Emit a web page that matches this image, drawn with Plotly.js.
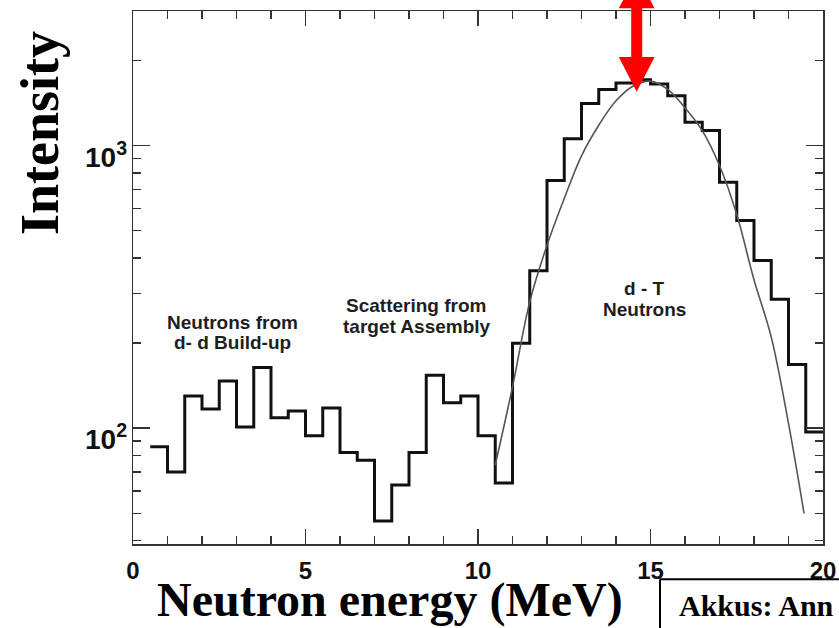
<!DOCTYPE html>
<html>
<head>
<meta charset="utf-8">
<script src="https://cdn.plot.ly/plotly-3.0.1.min.js"></script>
<style>
  html, body { margin: 0; padding: 0; background: #fff; }
  #chart { width: 839px; height: 628px; }
</style>
</head>
<body>
<div id="chart"></div>
<script>
// Neutron energy spectrum: measured histogram (0.5 MeV bins) and fitted d-T peak
const binEdges = [0.5, 1.0, 1.5, 2.0, 2.5, 3.0, 3.5, 4.0, 4.5, 5.0,
                  5.5, 6.0, 6.5, 7.0, 7.5, 8.0, 8.5, 9.0, 9.5, 10.0,
                  10.5, 11.0, 11.5, 12.0, 12.5, 13.0, 13.5, 14.0, 14.5, 15.0,
                  15.5, 16.0, 16.5, 17.0, 17.5, 18.0, 18.5, 19.0, 19.5, 20.0];
const binCounts = [86, 70, 130, 117, 147, 101, 164, 109, 115, 94,
                   118, 82, 77, 47, 63, 82, 154, 123, 130, 94,
                   64, 200, 361, 752, 1056, 1408, 1580, 1665, 1710, 1650,
                   1500, 1210, 1130, 742, 543, 392, 286, 168, 97];

const fitEnergy = [10.5, 11.0, 11.5, 12.0, 12.5, 13.0, 13.5, 14.0, 14.5, 15.0,
                   15.5, 16.0, 16.5, 17.0, 17.5, 18.0, 18.5, 19.0, 19.45];
const fitIntensity = [74, 140, 280, 444, 650, 920, 1180, 1440, 1625, 1690,
                      1580, 1360, 1130, 850, 570, 335, 210, 104, 50];

const yTickVals = [100, 1000];
const yTickText = ['10<sup>2</sup>', '10<sup>3</sup>'];

// energy of the d-T peak marker
const peakEnergy = 14.6;

// step outline: repeat last count so the final bin closes at its upper edge
const stepY = binCounts.concat([binCounts[binCounts.length - 1]]);

const axisColor = '#333';
const sansBold = { family: 'Liberation Sans, Arial, sans-serif', weight: 'bold' };
const serifBold = { family: 'Liberation Serif, Times New Roman, serif', weight: 'bold', color: '#000' };

const traces = [
  {
    type: 'scatter', mode: 'lines',
    x: binEdges, y: stepY,
    line: { shape: 'hv', color: '#111', width: 3 },
    hoverinfo: 'skip', showlegend: false
  },
  {
    type: 'scatter', mode: 'lines',
    x: fitEnergy, y: fitIntensity,
    line: { shape: 'spline', smoothing: 1, color: '#555', width: 1.6 },
    hoverinfo: 'skip', showlegend: false
  }
];

function label(text, x, y, size) {
  return {
    text: text, x: x, y: y, xref: 'x', yref: 'y',
    showarrow: false, xanchor: 'center', yanchor: 'middle',
    font: Object.assign({ size: size, color: '#1e1e1e' }, sansBold)
  };
}

const annotations = [
  label('Neutrons from', 2.886, 2.3746, 19),
  label('d- d Build-up', 2.886, 2.3018, 19),
  label('Scattering from', 8.21, 2.4336, 19),
  label('target Assembly', 8.24, 2.3604, 19),
  label('d - T', 14.82, 2.4961, 19),
  label('Neutrons', 14.82, 2.4184, 19),
  {
    text: 'Neutron energy (MeV)', xref: 'paper', yref: 'paper',
    x: 0.3725, y: -0.106, xanchor: 'center', yanchor: 'middle', showarrow: false,
    font: Object.assign({ size: 48 }, serifBold)
  },
  {
    text: 'Intensity', xref: 'paper', yref: 'paper', textangle: -90,
    x: -0.1348, y: 0.771, xanchor: 'center', yanchor: 'middle', showarrow: false,
    font: Object.assign({ size: 54 }, serifBold)
  },
  {
    text: 'Akkus: Ann', xref: 'paper', yref: 'paper',
    x: 0.7885, y: -0.1148, xanchor: 'left', yanchor: 'middle', showarrow: false,
    font: Object.assign({ size: 30 }, serifBold)
  }
];

// decade labels on the log axis
yTickVals.forEach(function (v, i) {
  annotations.push({
    text: yTickText[i], xref: 'paper', yref: 'y',
    x: -0.006, y: Math.log10(v), xanchor: 'right', yanchor: 'middle',
    yshift: -9, showarrow: false,
    font: Object.assign({ size: 28, color: '#111' }, sansBold)
  });
});

// red double-headed arrow over the peak, sized in pixels
const arrowPath = 'M -5.5,-46 L -17.9,-46 L 0,-80.7 L 17.9,-46 L 5.5,-46 ' +
                  'L 5.5,2.7 L 17.9,2.7 L 0,37 L -17.9,2.7 L -5.5,2.7 Z';

const shapes = [
  {
    type: 'path', path: arrowPath,
    xref: 'x', xsizemode: 'pixel', xanchor: peakEnergy,
    yref: 'paper', ysizemode: 'pixel', yanchor: 1,
    fillcolor: '#ff0000', line: { width: 0 }, layer: 'above'
  },
  // short marker line on the left axis
  {
    type: 'line', xref: 'paper', yref: 'y',
    x0: -0.005, x1: 0.028, y0: 3.094, y1: 3.094,
    line: { color: '#111', width: 2.5 }
  },
  // citation box outline
  {
    type: 'line', xref: 'paper', yref: 'paper',
    x0: 0.7638, x1: 1.04, y0: -0.0662, y1: -0.0662,
    line: { color: '#000', width: 2 }
  },
  {
    type: 'line', xref: 'paper', yref: 'paper',
    x0: 0.7638, x1: 0.7638, y0: -0.0662, y1: -0.18,
    line: { color: '#000', width: 2 }
  }
];

const layout = {
  width: 839, height: 628,
  margin: { l: 133, r: 16, t: 11, b: 84 },
  paper_bgcolor: '#fff', plot_bgcolor: '#fff',
  showlegend: false,
  xaxis: {
    range: [0, 20], showgrid: false, zeroline: false,
    showline: true, linecolor: axisColor, linewidth: 1.5, mirror: 'allticks',
    tickmode: 'linear', tick0: 0, dtick: 5,
    ticks: 'inside', ticklen: 15, tickwidth: 1.5, tickcolor: axisColor,
    ticklabelstandoff: 5,
    tickfont: Object.assign({ size: 24, color: '#111' }, sansBold),
    minor: { dtick: 1, ticks: 'inside', ticklen: 8, tickwidth: 1.5, tickcolor: axisColor, showgrid: false }
  },
  yaxis: {
    type: 'log', range: [1.5905, 3.476], showgrid: false, zeroline: false,
    showline: true, linecolor: axisColor, linewidth: 1.5, mirror: 'allticks',
    dtick: 1, showticklabels: false,
    ticks: 'inside', ticklen: 17, tickwidth: 1.5, tickcolor: axisColor,
    minor: { dtick: 'D1', ticks: 'inside', ticklen: 8, tickwidth: 1.5, tickcolor: axisColor, showgrid: false }
  },
  annotations: annotations,
  shapes: shapes
};

Plotly.newPlot('chart', traces, layout, { displayModeBar: false, staticPlot: true });
</script>
</body>
</html>
